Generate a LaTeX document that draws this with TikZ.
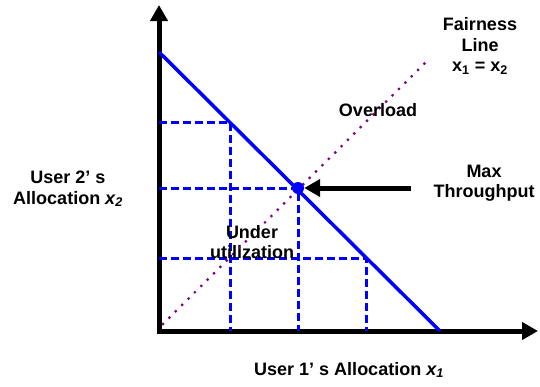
\documentclass[tikz,border=0pt]{standalone}
\usepackage{fontspec}
\setmainfont{Liberation Sans}
\usepackage{tikz}
\usetikzlibrary{arrows.meta, positioning}
\definecolor{shareblue}{RGB}{0, 0, 255}
\definecolor{fairpurple}{RGB}{128, 0, 128}

\begin{document}
\begin{tikzpicture}[
    x=1pt, y=-1pt,
    axis/.style={line width=5pt, -{Triangle[length=16pt, width=17pt]}},
    capline/.style={draw=shareblue, line width=3.5pt},
    guide/.style={draw=shareblue, line width=3pt, dash pattern=on 8pt off 4pt},
    fairline/.style={draw=fairpurple, line width=3.2pt, line cap=round, dash pattern=on 0pt off 9pt},
    lbl/.style={font=\fontsize{18}{20.5}\selectfont\bfseries, align=center, inner sep=0pt}
]
    \useasboundingbox (0,0) rectangle (540,386);

    % axes
    \coordinate (origin) at (159,331);
    \coordinate (xcorner) at (156.5,331);
    \coordinate (ytip) at (159,5);
    \coordinate (xtip) at (538,331);
    \draw[axis] (origin) -- (ytip);
    \draw[axis] (xcorner) -- (xtip);

    % allocation points on the capacity line
    \coordinate (ytop) at (159,52);
    \coordinate (xend) at (440,331);
    \coordinate (ptA) at (230,122);
    \coordinate (ptB) at (298,188);
    \coordinate (ptC) at (366,258);
    \coordinate (yA) at (159,122);
    \coordinate (yB) at (159,188);
    \coordinate (yC) at (159,258);
    \coordinate (xA) at (230,331);
    \coordinate (xB) at (298,331);
    \coordinate (xC) at (366,331);

    % dashed projections
    \draw[guide] (yA) -- (ptA) -- (xA);
    \draw[guide] (yB) -- (ptB) -- (xB);
    \draw[guide] (yC) -- (ptC) -- (xC);

    % fairness line
    \coordinate (fairlow) at (163,324);
    \coordinate (fairhigh) at (429,59);
    \draw[fairline] (fairlow) -- (fairhigh);

    % capacity line
    \draw[capline] (ytop) -- (xend);
    \node[circle, fill=shareblue, inner sep=0pt, minimum size=12pt] (optimum) at (ptB) {};

    % labels
    \node[lbl] (fairness) at (480,46) {Fairness\\Line\\x\textsubscript{1} = x\textsubscript{2}};
    \node[lbl] (overload) at (378,110) {Overload};
    \node[lbl] (maxtp) at (484,183) {Max\\Throughput};
    \node[lbl] (under) at (252,242) {Under\\utilization};
    \node[lbl] (ylabel) at (68,189) {User 2’ s\\Allocation {\itshape x\textsubscript{2}}};
    \node[lbl] (xlabel) at (349,370) {User 1’ s Allocation {\itshape x\textsubscript{1}}};

    \coordinate (arrowstart) at (411,188);
    \draw[line width=5pt, -{Triangle[length=16pt, width=17pt]}] (arrowstart) -- (optimum);
\end{tikzpicture}
\end{document}
